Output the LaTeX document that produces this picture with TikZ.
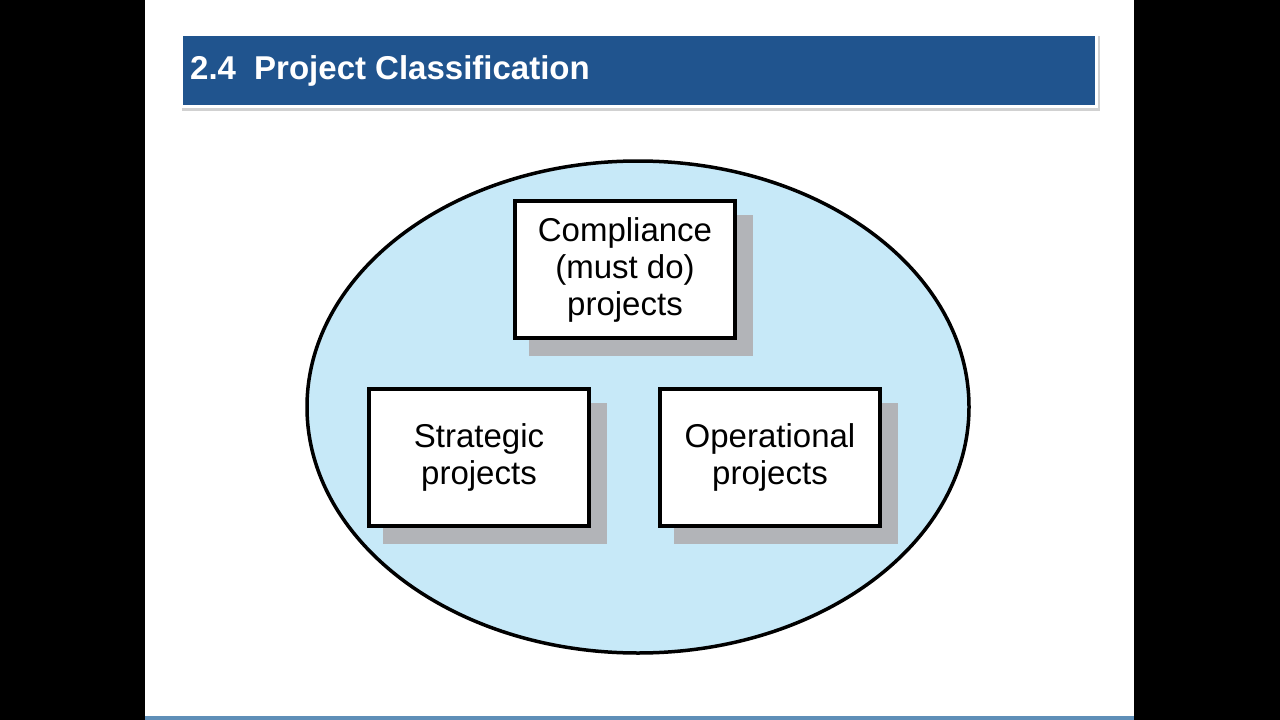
\documentclass[tikz,border=0pt]{standalone}
\usepackage{fontspec}
\setmainfont{Liberation Sans}
\definecolor{titleblue}{HTML}{20548E}
\definecolor{ellfill}{HTML}{C7E9F8}
\definecolor{shadowgray}{HTML}{B2B4B8}
\definecolor{footblue}{HTML}{5F8FB8}
\tikzset{
  projbox/.style={draw=black, fill=white, line width=4pt, minimum width=220pt, minimum height=137pt, inner sep=0pt, align=center, font=\fontsize{33}{37}\selectfont},
  boxshadow/.style={fill=shadowgray},
}
\begin{document}
\begin{tikzpicture}[x=1pt,y=-1pt]
\useasboundingbox (0,0) rectangle (1280,720);
\fill[black] (0,0) rectangle (1280,720);
\fill[white] (145,0) rectangle (1134,720);
\fill[footblue] (145,716) rectangle (1134,720);
% title bar
\fill[black!18] (182,36) rectangle (1100,111);
\fill[white] (180,33) rectangle (1098,108);
\fill[titleblue] (183,36) rectangle (1095,105);
\node[anchor=west, text=white, font=\bfseries\fontsize{33}{38}\selectfont, inner sep=0pt] (title) at (190,71) {2.4\hspace{0.55em}Project Classification};
% ellipse
\draw[line width=3.5pt, fill=ellfill] (638,407) ellipse [x radius=331pt, y radius=246pt];
% shadows
\fill[boxshadow] (529,215) rectangle (753,356);
\fill[boxshadow] (383,403) rectangle (607,544);
\fill[boxshadow] (674,403) rectangle (898,544);
% boxes
\node[projbox] (compliance) at (625,269.5) {Compliance\\(must do)\\projects};
\node[projbox] (strategic) at (479,457) {Strategic\\projects};
\node[projbox] (operational) at (770,457) {Operational\\projects};
\end{tikzpicture}
\end{document}
